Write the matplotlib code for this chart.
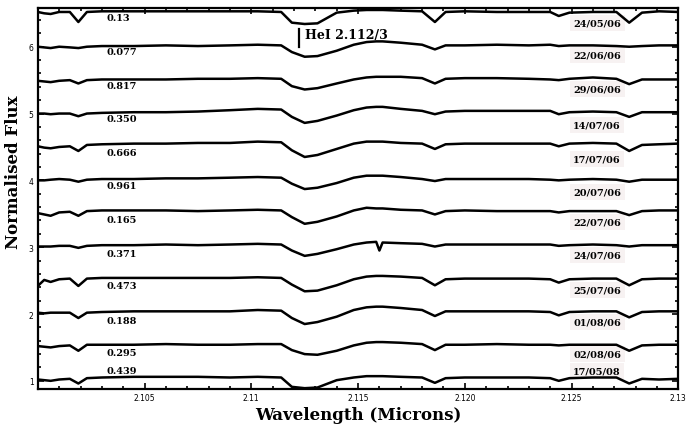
import matplotlib.pyplot as plt
from matplotlib.ticker import MultipleLocator

# wavelength nodes (microns) shared by all spectra
wave = [2.1000, 2.1003, 2.1006, 2.1010, 2.1015, 2.1019, 2.1023, 2.1030, 2.1045,
        2.1060, 2.1075, 2.1090, 2.1103, 2.1114, 2.1119, 2.1125, 2.1131, 2.1140,
        2.1148, 2.1154, 2.11585, 2.1160, 2.11615, 2.1170, 2.1180, 2.1186, 2.1191,
        2.1200, 2.1215, 2.1230, 2.1240, 2.1244, 2.1249, 2.1260, 2.1271, 2.1277,
        2.1283, 2.1291, 2.1300]

# offset spectra, top to bottom
s_240506 = [6.52, 6.50, 6.49, 6.52, 6.52, 6.37, 6.52, 6.53, 6.53, 6.53, 6.53, 6.53, 6.53,
            6.52, 6.36, 6.34, 6.35, 6.51, 6.54, 6.55, 6.55, 6.55, 6.55, 6.54, 6.53, 6.37,
            6.52, 6.53, 6.52, 6.52, 6.52, 6.46, 6.51, 6.52, 6.52, 6.36, 6.51, 6.53, 6.52]
s_220606 = [6.00, 5.99, 5.98, 6.00, 5.99, 5.98, 6.00, 6.01, 6.01, 6.02, 6.01, 6.02, 6.03,
            6.02, 5.92, 5.85, 5.86, 5.94, 6.03, 6.07, 6.08, 6.08, 6.08, 6.06, 6.03, 5.96,
            6.02, 6.02, 6.03, 6.02, 6.03, 6.01, 6.02, 6.02, 6.01, 6.00, 6.01, 6.02, 6.02]
s_290606 = [5.49, 5.48, 5.47, 5.49, 5.50, 5.45, 5.50, 5.51, 5.51, 5.51, 5.52, 5.52, 5.53,
            5.52, 5.41, 5.36, 5.38, 5.45, 5.51, 5.54, 5.55, 5.55, 5.55, 5.55, 5.53, 5.45,
            5.52, 5.53, 5.53, 5.52, 5.51, 5.50, 5.52, 5.54, 5.52, 5.44, 5.51, 5.51, 5.51]
s_140706 = [5.00, 5.00, 4.99, 5.00, 5.00, 4.96, 5.00, 5.01, 5.02, 5.02, 5.03, 5.05, 5.07,
            5.06, 4.95, 4.86, 4.89, 4.97, 5.05, 5.09, 5.10, 5.10, 5.10, 5.07, 5.04, 4.99,
            5.03, 5.04, 5.04, 5.04, 5.04, 4.99, 5.02, 5.03, 5.02, 4.95, 5.02, 5.02, 5.02]
s_170706 = [4.51, 4.49, 4.48, 4.50, 4.51, 4.44, 4.53, 4.54, 4.55, 4.55, 4.56, 4.56, 4.58,
            4.57, 4.45, 4.35, 4.38, 4.47, 4.55, 4.58, 4.58, 4.58, 4.58, 4.56, 4.55, 4.47,
            4.54, 4.55, 4.55, 4.55, 4.55, 4.51, 4.55, 4.56, 4.55, 4.44, 4.53, 4.54, 4.55]
s_200706 = [4.00, 4.00, 4.01, 4.02, 4.01, 3.98, 4.01, 4.02, 4.02, 4.03, 4.03, 4.04, 4.05,
            4.04, 3.95, 3.87, 3.89, 3.96, 4.04, 4.07, 4.07, 4.07, 4.07, 4.05, 4.02, 3.99,
            4.02, 4.02, 4.02, 4.02, 4.01, 4.00, 4.01, 4.02, 4.01, 3.98, 4.01, 4.01, 4.01]
s_220706 = [3.51, 3.49, 3.47, 3.52, 3.53, 3.47, 3.54, 3.55, 3.55, 3.55, 3.54, 3.55, 3.56,
            3.55, 3.45, 3.35, 3.38, 3.46, 3.55, 3.59, 3.58, 3.58, 3.58, 3.56, 3.55, 3.49,
            3.54, 3.55, 3.54, 3.54, 3.54, 3.52, 3.54, 3.54, 3.54, 3.48, 3.54, 3.55, 3.55]
s_240706 = [3.01, 3.01, 3.01, 3.02, 3.02, 2.99, 3.02, 3.03, 3.03, 3.04, 3.03, 3.04, 3.05,
            3.04, 2.95, 2.87, 2.90, 2.97, 3.04, 3.07, 3.08, 2.95, 3.07, 3.06, 3.05, 3.01,
            3.04, 3.04, 3.04, 3.04, 3.04, 3.02, 3.03, 3.04, 3.03, 3.01, 3.03, 3.03, 3.03]
s_250706 = [2.42, 2.51, 2.48, 2.52, 2.53, 2.42, 2.53, 2.54, 2.54, 2.54, 2.54, 2.54, 2.55,
            2.54, 2.44, 2.34, 2.35, 2.43, 2.52, 2.56, 2.57, 2.57, 2.57, 2.56, 2.54, 2.43,
            2.52, 2.53, 2.53, 2.53, 2.52, 2.47, 2.52, 2.53, 2.53, 2.43, 2.52, 2.53, 2.53]
s_010806 = [2.02, 2.01, 2.02, 2.02, 2.02, 1.94, 2.02, 2.03, 2.04, 2.04, 2.04, 2.04, 2.06,
            2.05, 1.94, 1.85, 1.88, 1.96, 2.06, 2.10, 2.11, 2.11, 2.11, 2.09, 2.06, 1.97,
            2.04, 2.04, 2.04, 2.04, 2.03, 1.98, 2.03, 2.04, 2.04, 1.95, 2.03, 2.04, 2.04]
s_020806 = [1.52, 1.51, 1.50, 1.52, 1.53, 1.45, 1.54, 1.54, 1.54, 1.55, 1.54, 1.54, 1.55,
            1.55, 1.46, 1.40, 1.39, 1.45, 1.53, 1.57, 1.58, 1.58, 1.58, 1.57, 1.55, 1.46,
            1.54, 1.54, 1.55, 1.54, 1.54, 1.53, 1.54, 1.54, 1.54, 1.45, 1.53, 1.54, 1.54]
s_170508 = [1.02, 1.01, 1.00, 1.02, 1.03, 0.96, 1.04, 1.05, 1.06, 1.06, 1.06, 1.05, 1.06,
            1.05, 0.91, 0.89, 0.90, 1.01, 1.05, 1.07, 1.07, 1.07, 1.07, 1.06, 1.05, 0.97,
            1.04, 1.05, 1.05, 1.05, 1.04, 1.00, 1.04, 1.05, 1.05, 0.96, 1.03, 1.02, 1.03]

spectra = [s_240506, s_220606, s_290606, s_140706, s_170706, s_200706,
           s_220706, s_240706, s_250706, s_010806, s_020806, s_170508]
phases = ['0.13', '0.077', '0.817', '0.350', '0.666', '0.961',
          '0.165', '0.371', '0.473', '0.188', '0.295', '0.439']
dates = ['24/05/06', '22/06/06', '29/06/06', '14/07/06', '17/07/06', '20/07/06',
         '22/07/06', '24/07/06', '25/07/06', '01/08/06', '02/08/06', '17/05/08']
phase_y = [6.43, 5.93, 5.42, 4.92, 4.41, 3.92, 3.41, 2.90, 2.42, 1.91, 1.43, 1.15]
date_y = [6.36, 5.87, 5.37, 4.83, 4.32, 3.83, 3.37, 2.89, 2.36, 1.88, 1.40, 1.15]

xticks = [2.105, 2.11, 2.115, 2.120, 2.125, 2.13]
xticklabels = ['2.105', '2.11', '2.115', '2.120', '2.125', '2.13']

fig = plt.figure(figsize=(7, 4.27), dpi=100)
ax = fig.add_axes([0.054, 0.087, 0.915, 0.892])

for flux in spectra:
    ax.plot(wave, flux, color='black', lw=1.8, solid_joinstyle='round', zorder=3)

for p, y in zip(phases, phase_y):
    ax.text(2.1032, y, p, fontsize=7, fontweight='bold', family='DejaVu Serif',
            ha='left', va='center', zorder=2)
for d, y in zip(dates, date_y):
    ax.text(2.1262, y, d, fontsize=7, fontweight='bold', family='DejaVu Serif',
            ha='center', va='center', zorder=1,
            bbox=dict(facecolor='#f7f2f2', edgecolor='none', pad=2.5))

# HeI marker
ax.plot([2.11222, 2.11222], [6.0, 6.27], color='black', lw=1.6)
ax.text(2.1125, 6.19, 'HeI 2.112/3', fontsize=9, fontweight='bold',
        family='DejaVu Serif', ha='left', va='center')

ax.set_xlim(2.100, 2.130)
ax.set_ylim(0.88, 6.58)
ax.set_xticks(xticks)
ax.set_xticklabels(xticklabels)
ax.set_yticks([1, 2, 3, 4, 5, 6])
ax.xaxis.set_minor_locator(MultipleLocator(0.001))
ax.yaxis.set_minor_locator(MultipleLocator(0.2))
ax.tick_params(which='both', direction='in', top=True, right=True,
               labelsize=5.5, width=1.2, pad=3)
ax.tick_params(which='major', length=4)
ax.tick_params(which='minor', length=2.5)
for sp in ax.spines.values():
    sp.set_linewidth(1.6)

ax.set_xlabel('Wavelength (Microns)', fontsize=12, fontweight='bold',
              family='DejaVu Serif', labelpad=3)
ax.set_ylabel('Normalised Flux', fontsize=12, fontweight='bold',
              family='DejaVu Serif')
ax.yaxis.set_label_coords(-0.024, 0.57)

plt.savefig('out.png', dpi=100)
plt.close()
